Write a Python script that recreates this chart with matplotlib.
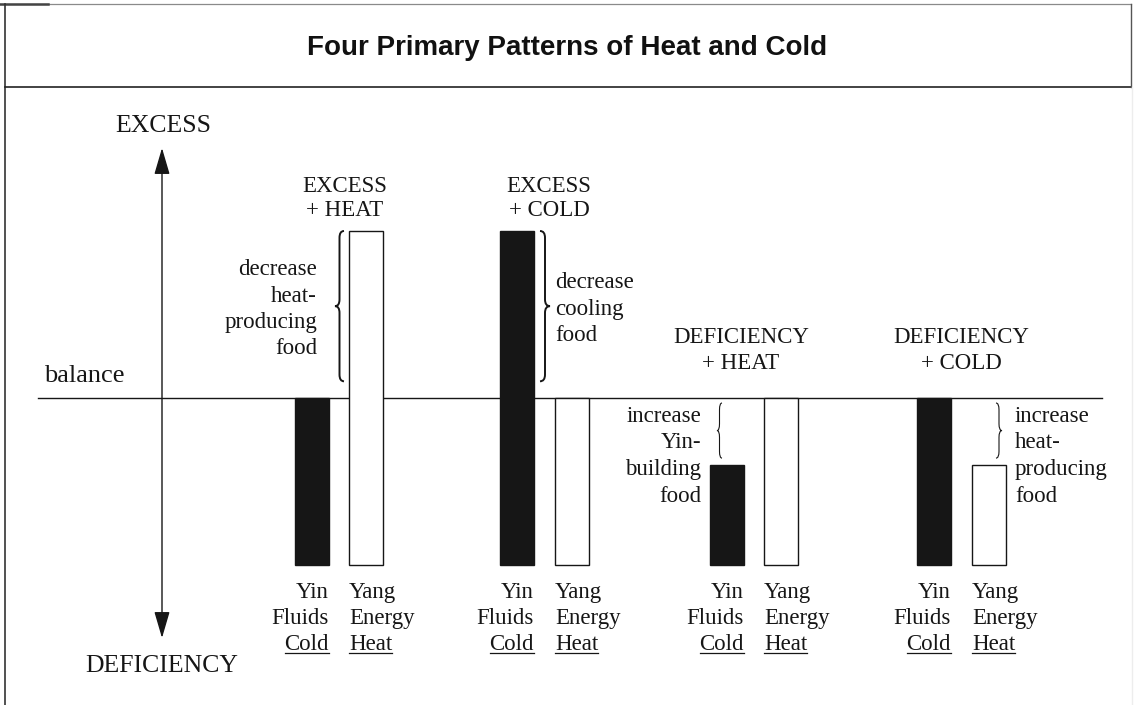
import matplotlib.pyplot as plt
import matplotlib.transforms as mtransforms
from matplotlib.path import Path
from matplotlib.patches import PathPatch, FancyArrowPatch

# data: level of Yin and Yang in each pattern (balance = 100)
patterns = [["EXCESS", "+ HEAT"], ["EXCESS", "+ COLD"],
            ["DEFICIENCY", "+ HEAT"], ["DEFICIENCY", "+ COLD"]]
yin_level = [100, 200, 60, 100]
yang_level = [200, 100, 100, 60]
balance = 100
advice = [["decrease", "heat-", "producing", "food"],
          ["decrease", "cooling", "food"],
          ["increase", "Yin-", "building", "food"],
          ["increase", "heat-", "producing", "food"]]
yin_words = ["Yin", "Fluids", "Cold"]
yang_words = ["Yang", "Energy", "Heat"]

# layout (pixels)
W, H = 1134, 705
base_px, unit_px = 565, 1.67
bar_w = 34
yin_x = [312, 517, 727, 934]
yang_x = [366, 572, 781, 989]
head_x = [345, 549, 741, 961]
head_y = [[192, 216], [192, 216], [343, 369], [343, 369]]
advice_x = [317, 555, 701, 1015]
advice_ha = ["right", "left", "right", "left"]
advice_y0 = [275, 288, 422, 422]
brace_x = [339.5, 545, 719.5, 999]
brace_side = [-1, 1, -1, 1]
brace_depth = [4.5, 5, 2.5, 3]
brace_lw = [1.4, 1.4, 0.8, 0.8]

ink = "#161616"
serif = "Liberation Serif"

fig = plt.figure(figsize=(W / 100, H / 100), dpi=100)
ax = fig.add_axes([0, 0, 1, 1])
ax.axis("off")
ax.set_xlim(0, W)
ax.set_ylim(-(H - base_px) / unit_px, base_px / unit_px)

# pixel coordinates, origin top-left
px = mtransforms.Affine2D().scale(1 / W, -1 / H).translate(0, 1) + fig.transFigure

# frame
ax.plot([0, 1131], [4, 4], transform=px, color="#8a8a8a", lw=0.9)
ax.plot([0, 48], [4, 4], transform=px, color="#444444", lw=1.8)
ax.plot([5, 5], [4, H], transform=px, color="#333333", lw=1.2)
ax.plot([5, 1131], [87, 87], transform=px, color="#222222", lw=1.2)
ax.plot([1131, 1131], [4, 87], transform=px, color="#555555", lw=1.0)
ax.plot([1132, 1132], [87, H], transform=px, color="#ededed", lw=1.0)

ax.text(567, 55, "Four Primary Patterns of Heat and Cold", transform=px,
        ha="center", va="baseline", family="Liberation Sans",
        fontweight="bold", fontsize=20, color="#111111")

# balance line and vertical arrow
ax.plot([38, 1102], [balance, balance], color=ink, lw=1.0, zorder=1)
ax.add_patch(FancyArrowPatch((162, 148), (162, 638), transform=px,
                             arrowstyle="<|-|>,head_length=0.82,head_width=0.24",
                             mutation_scale=20, color=ink, lw=1.0,
                             shrinkA=0, shrinkB=0))
ax.text(163, 132, "EXCESS", transform=px, ha="center", va="baseline",
        family=serif, fontsize=18.5, color=ink)
ax.text(162, 672, "DEFICIENCY", transform=px, ha="center", va="baseline",
        family=serif, fontsize=18.5, color=ink)
ax.text(44, 382, "balance", transform=px, ha="left", va="baseline",
        family=serif, fontsize=19, color=ink)

# bars
ax.bar(yin_x, yin_level, width=bar_w, color=ink, edgecolor=ink, lw=1.0, zorder=2)
ax.bar(yang_x, yang_level, width=bar_w, facecolor="white", edgecolor=ink,
       lw=1.0, zorder=2)


def brace(x, y_a, y_b, side, depth, lw):
    top, bot = max(y_a, y_b), min(y_a, y_b)
    mid = (top + bot) / 2
    r = min(4, (top - bot) / 6)
    tip = x + side * depth
    hook = x - side * depth
    verts = [(hook, top), (x, top), (x, top - r), (x, mid + r), (x, mid),
             (tip, mid), (x, mid), (x, mid - r), (x, bot + r), (x, bot),
             (hook, bot)]
    codes = [Path.MOVETO, Path.CURVE3, Path.CURVE3, Path.LINETO, Path.CURVE3,
             Path.CURVE3, Path.CURVE3, Path.CURVE3, Path.LINETO, Path.CURVE3,
             Path.CURVE3]
    ax.add_patch(PathPatch(Path(verts, codes), facecolor="none",
                           edgecolor=ink, lw=lw, zorder=3))


for i in range(4):
    # group heading
    for line, y in zip(patterns[i], head_y[i]):
        ax.text(head_x[i], y, line, transform=px, ha="center", va="baseline",
                family=serif, fontsize=16.5, color=ink)
    # brace next to the bar that is out of balance
    level = yin_level[i] if yin_level[i] != balance else yang_level[i]
    if level > balance:
        y_a, y_b = level, balance + 10
    else:
        y_a, y_b = balance - 3, level + 4
    brace(brace_x[i], y_a, y_b, brace_side[i], brace_depth[i], brace_lw[i])
    for k, line in enumerate(advice[i]):
        ax.text(advice_x[i], advice_y0[i] + 26.5 * k, line, transform=px,
                ha=advice_ha[i], va="baseline", family=serif, fontsize=16.5,
                color=ink)

# labels under the bars
under = []
for i in range(4):
    yin_right = yin_x[i] + bar_w / 2
    yang_left = yang_x[i] - bar_w / 2
    for k in range(3):
        y = 598 + 26 * k
        xr = ax.transData.transform((yin_right, 0))[0]
        xl = ax.transData.transform((yang_left, 0))[0]
        xr = px.inverted().transform((xr, 0))[0]
        xl = px.inverted().transform((xl, 0))[0]
        t1 = ax.text(xr, y, yin_words[k], transform=px, ha="right",
                     va="baseline", family=serif, fontsize=16.5, color=ink)
        t2 = ax.text(xl, y, yang_words[k], transform=px, ha="left",
                     va="baseline", family=serif, fontsize=16.5, color=ink)
        if k == 2:
            under += [(t1, y), (t2, y)]

fig.canvas.draw()
renderer = fig.canvas.get_renderer()
inv = px.inverted()
for t, y in under:
    bb = t.get_window_extent(renderer)
    x0 = inv.transform((bb.x0, 0))[0]
    x1 = inv.transform((bb.x1, 0))[0]
    ax.plot([x0, x1], [y + 3, y + 3], transform=px, color=ink, lw=0.9)

fig.savefig("out.png", dpi=100)
